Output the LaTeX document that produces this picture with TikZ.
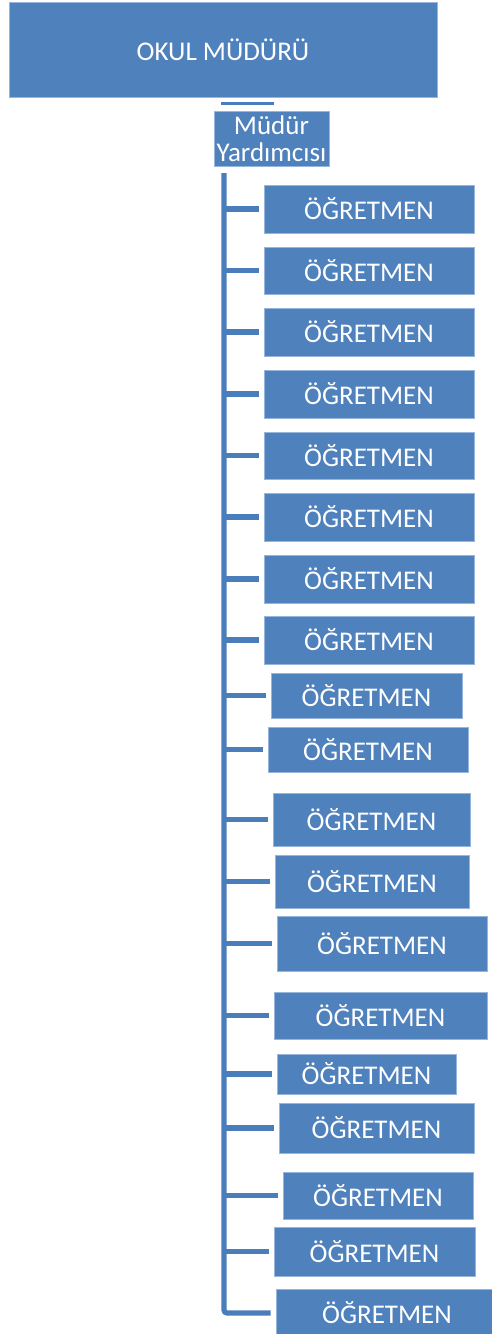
\documentclass[tikz,border=0pt]{standalone}
\usepackage{fontspec}
\setmainfont{Carlito}
\definecolor{boxblue}{RGB}{79,129,189}
\definecolor{lineblue}{RGB}{74,126,187}
\definecolor{edgeblue}{RGB}{150,182,222}
\begin{document}
\begin{tikzpicture}[x=1pt,y=-1pt,
  box/.style={fill=boxblue,draw=edgeblue,line width=0.8pt,inner sep=0pt,
    text=white,font=\fontsize{27}{27.5}\selectfont,align=center},
  link/.style={draw=lineblue,line width=5.2pt},
  thinlink/.style={draw=lineblue,line width=2.5pt}]
\useasboundingbox (0,0) rectangle (492,1334);
\node[box,minimum width=428pt,minimum height=95pt] (top) at (223,49.5) {OKUL MÜDÜRÜ};
\node[box,minimum width=115pt,minimum height=55pt] (myd) at (271.5,138.5) {Müdür\\Yardımcısı};
\coordinate (la) at (221,103.5);
\coordinate (lb) at (274,103.5);
\draw[thinlink] (la) -- (lb);
% teacher boxes
\foreach \n/\cx/\cy/\w/\h in {
  1/369/209/210/48, 2/369/270.5/210/47, 3/369/332/210/48, 4/369/394/210/48,
  5/369/455.5/210/47, 6/369/517/210/48, 7/369/579/210/48, 8/369/640/210/48,
  9/366.5/695.5/191/45, 10/368/749.5/200/45, 11/371.5/819.5/197/53,
  12/372/881.5/194/53, 13/382/943.5/210/55, 14/380.5/1015.5/213/47,
  15/366.5/1074/179/40, 16/376.5/1128/195/50, 17/378/1195.5/190/47,
  18/374.5/1251.5/201/49, 19/387/1313/222/48}{
  \node[box,minimum width=\w pt,minimum height=\h pt] (t\n) at (\cx,\cy) {ÖĞRETMEN};
}
\coordinate (spinetop) at (224,173);
\draw[link,rounded corners=3pt] (spinetop) |- ([xshift=-5pt]t19.west);
\foreach \n in {1,...,18}{
  \draw[link] (spinetop |- t\n.west) -- ([xshift=-5pt]t\n.west);
}
\end{tikzpicture}
\end{document}
